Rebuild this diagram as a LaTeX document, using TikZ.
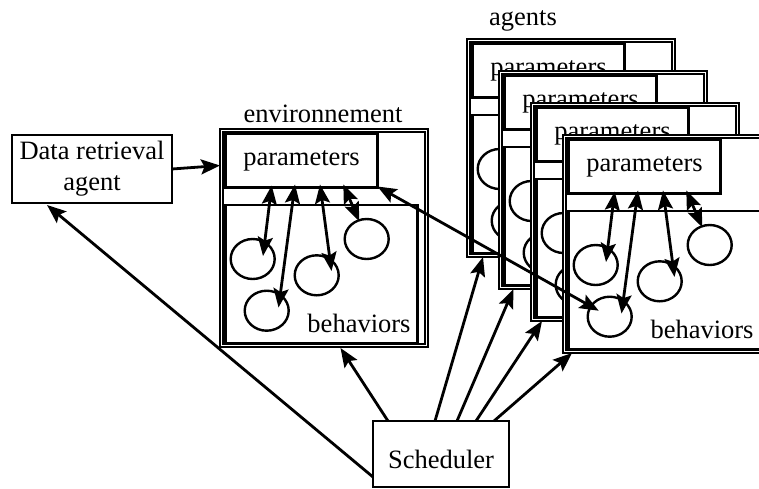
\documentclass[tikz,border=0pt]{standalone}
\usepackage{fontspec}
\setmainfont{Liberation Serif}
\usetikzlibrary{arrows.meta,shapes.geometric,calc}

\tikzset{
  myhead/.tip={Stealth[length=19pt,width=15pt,inset=3.5pt]},
  frame/.style={draw, line width=2.4pt, inner sep=0pt, outer sep=0pt, fill=white},
  container/.style={draw, fill=white, double, line width=1.6pt, double distance=1.1pt,
    inner sep=0pt, outer sep=0pt, anchor=north west,
    minimum width=205pt, minimum height=215pt},
  parbox/.style={frame, anchor=north west, minimum width=152pt, minimum height=54pt},
  behbox/.style={frame, anchor=north west, minimum width=192pt, minimum height=138pt},
  circ/.style={draw, ellipse, line width=2.4pt, inner sep=0pt, outer sep=0pt,
    minimum width=44pt, minimum height=40pt},
  conn/.style={line width=2.8pt},
}

% one unit: a double-framed box holding a parameters box, a behaviors box
% and four behaviours linked to the parameters
\newcommand\drawunit[3]{%
  \begin{scope}[shift={(#2,#3)}]
    \node[container] (#1-box) at (1.5,1.5) {};
    \node[parbox] (#1-par) at (5.5,4.5) {parameters};
    \node[behbox] (#1-beh) at (5.5,76) {};
    \node[anchor=base] (#1-behtxt) at (139,203) {behaviors};
    \node[circ] (#1-c1) at (32.7,130) {};
    \node[circ] (#1-c2) at (46.7,181.7) {};
    \node[circ] (#1-c3) at (96.7,146.3) {};
    \node[circ] (#1-c4) at (146.7,110) {};
    \draw[conn, myhead-myhead] ($(#1-par.south west)+(46.2,-2)$) -- ($(#1-c1)+(10.3,-3)$);
    \draw[conn, myhead-myhead] ($(#1-par.south west)+(69.5,-3)$) -- ($(#1-c2)+(11.8,-3.2)$);
    \draw[conn, myhead-myhead] ($(#1-par.south west)+(94.5,-3)$) -- ($(#1-c3)+(14.8,-4.3)$);
    \draw[conn, myhead-myhead] ($(#1-par.south west)+(117.8,-3)$) -- ($(#1-c4)+(-7.4,-17.7)$);
  \end{scope}%
}

\begin{document}
\begin{tikzpicture}[x=1pt, y=-1pt, font=\fontsize{26.5}{31}\selectfont]
  \useasboundingbox (0,0) rectangle (759,488);
  \clip (0,0) rectangle (759,488);

  % data retrieval agent
  \node[frame, anchor=north west, minimum width=160pt, minimum height=68pt, align=center]
    (dra) at (12,135) {Data retrieval\\agent};

  % environment
  \node[anchor=base] (envlabel) at (323,122) {environnement};
  \drawunit{env}{220}{129}

  % stack of agents, back to front
  \node[anchor=base] (aglabel) at (523,25) {agents};
  \drawunit{ag1}{467}{39}
  \drawunit{ag2}{499}{71}
  \drawunit{ag3}{531}{103}
  \drawunit{ag4}{563}{135}

  % scheduler
  \node[frame, anchor=north west, minimum width=136pt, minimum height=66pt] (sch) at (373,421) {};
  \node[anchor=base] (schtxt) at ($(sch.north)+(0,47)$) {Scheduler};

  % connectors
  \draw[conn, -myhead] (dra.east) -- ($(env-box.north west)+(-1.5,35)$);
  \draw[conn, myhead-myhead] ($(env-par.south east)+(0,-1)$) -- ($(ag4-c2)+(-11,-6)$);
  \draw[conn, -myhead] ($(sch.north west)+(0,56)$) -- ($(dra.south west)+(35,2)$);
  \draw[conn, -myhead] ($(sch.north west)+(15,0)$) -- ($(env-box.south west)+(119,2.5)$);
  \draw[conn, -myhead] ($(sch.north west)+(62,0)$) -- ($(ag1-box.south west)+(14.5,1.5)$);
  \draw[conn, -myhead] ($(sch.north west)+(84,0)$) -- ($(ag2-box.south west)+(13,1.5)$);
  \draw[conn, -myhead] ($(sch.north west)+(103,0)$) -- ($(ag3-box.south west)+(9.5,1.5)$);
  \draw[conn, -myhead] ($(sch.north west)+(121,0)$) -- ($(ag4-box.south west)+(7.5,1.5)$);
\end{tikzpicture}
\end{document}
